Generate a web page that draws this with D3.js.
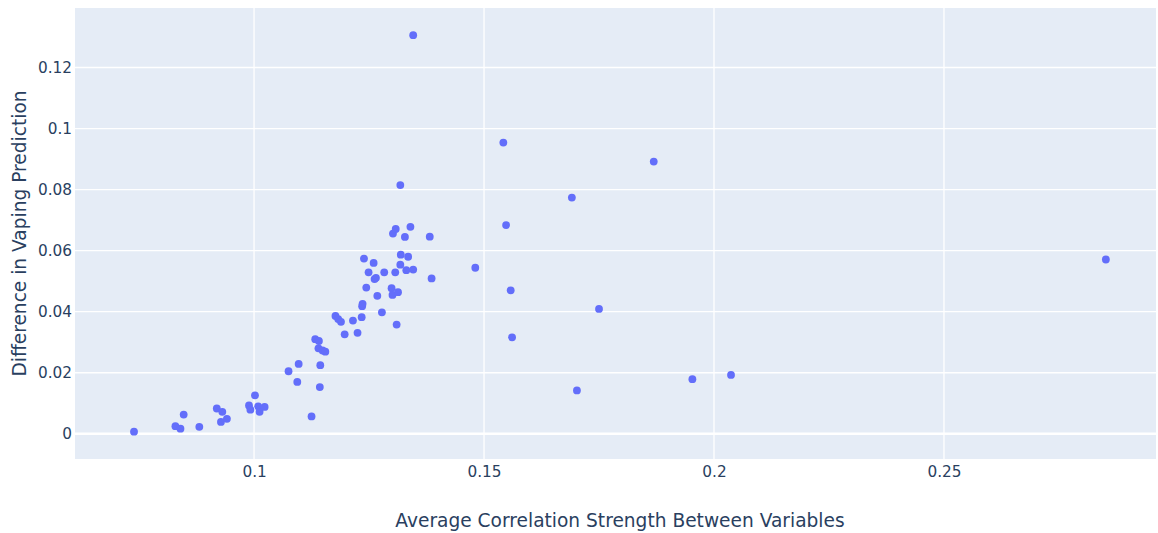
<!DOCTYPE html>
<html>
<head>
<meta charset="utf-8">
<script src="https://cdn.jsdelivr.net/npm/d3@7"></script>
<style>
  body { margin: 0; background: #fff; }
  svg { display: block; font-family: "DejaVu Sans", Verdana, sans-serif; }
</style>
</head>
<body>
<div id="chart"></div>
<script>
// average correlation strength (x) and difference in vaping prediction (y)
var corr = [
  0.0739, 0.0829, 0.0840, 0.0847, 0.0881, 0.0919, 0.0931, 0.0928, 0.0941, 0.1002,
  0.0989, 0.0992, 0.1009, 0.1012, 0.1023, 0.1075, 0.1097, 0.1094, 0.1125, 0.1133,
  0.1141, 0.1140, 0.1149, 0.1155, 0.1144, 0.1143, 0.1177, 0.1183, 0.1189, 0.1197,
  0.1215, 0.1225, 0.1234, 0.1235, 0.1236, 0.1239, 0.1244, 0.1249, 0.1260, 0.1262,
  0.1265, 0.1268, 0.1278, 0.1283, 0.1299, 0.1301, 0.1302, 0.1310, 0.1307, 0.1318,
  0.1308, 0.1340, 0.1328, 0.1382, 0.1319, 0.1335, 0.1318, 0.1331, 0.1346, 0.1386,
  0.1313, 0.1346, 0.1542, 0.1869, 0.1691, 0.1548, 0.1481, 0.1558, 0.1750, 0.1561,
  0.1953, 0.2037, 0.1702, 0.2852
];
var diff = [
  0.0007, 0.0025, 0.0017, 0.0063, 0.0023, 0.0083, 0.0072, 0.0039, 0.0049, 0.0126,
  0.0093, 0.0079, 0.0090, 0.0072, 0.0088, 0.0205, 0.0229, 0.0170, 0.0057, 0.0310,
  0.0304, 0.0280, 0.0273, 0.0269, 0.0225, 0.0153, 0.0386, 0.0376, 0.0367, 0.0326,
  0.0371, 0.0331, 0.0382, 0.0418, 0.0426, 0.0574, 0.0479, 0.0529, 0.0560, 0.0507,
  0.0511, 0.0452, 0.0398, 0.0529, 0.0477, 0.0455, 0.0656, 0.0358, 0.0529, 0.0815,
  0.0671, 0.0678, 0.0645, 0.0646, 0.0587, 0.0580, 0.0554, 0.0536, 0.0538, 0.0509,
  0.0464, 0.1306, 0.0954, 0.0892, 0.0774, 0.0684, 0.0544, 0.0470, 0.0409, 0.0316,
  0.0179, 0.0193, 0.0142, 0.0571
];
var xTicks = [0.1, 0.15, 0.2, 0.25];
var yTicks = [0, 0.02, 0.04, 0.06, 0.08, 0.1, 0.12];

var width = 1158, height = 533;
var margin = {top: 8, right: 2, bottom: 74, left: 75};
var w = width - margin.left - margin.right,
    h = height - margin.top - margin.bottom;

var x = d3.scaleLinear().domain([0.06107, 0.2961]).range([0, w]);
var y = d3.scaleLinear().domain([-0.00825, 0.1395]).range([h, 0]);

var svg = d3.select('#chart').append('svg')
    .attr('width', width)
    .attr('height', height);

var g = svg.append('g')
    .attr('transform', 'translate(' + margin.left + ',' + margin.top + ')');

g.append('rect')
    .attr('width', w)
    .attr('height', h)
    .attr('fill', '#e5ecf6');

// grid
g.selectAll('.xgrid').data(xTicks).enter().append('line')
    .attr('x1', d => x(d)).attr('x2', d => x(d))
    .attr('y1', 0).attr('y2', h)
    .attr('stroke', '#fff').attr('stroke-width', 1.3);

g.selectAll('.ygrid').data(yTicks).enter().append('line')
    .attr('x1', 0).attr('x2', w)
    .attr('y1', d => y(d)).attr('y2', d => y(d))
    .attr('stroke', '#fff')
    .attr('stroke-width', d => d === 0 ? 2.6 : 1.3);

// axes
var xAxis = g.append('g')
    .attr('transform', 'translate(0,' + h + ')')
    .call(d3.axisBottom(x).tickValues(xTicks).tickSize(0).tickPadding(7).tickFormat(d3.format('')));
var yAxis = g.append('g')
    .call(d3.axisLeft(y).tickValues(yTicks).tickSize(0).tickPadding(3).tickFormat(d3.format('')));

[xAxis, yAxis].forEach(function (a) {
    a.select('.domain').remove();
    a.selectAll('text')
        .attr('fill', '#2a3f5f')
        .style('font-size', '15.3px')
        .style('font-family', '"DejaVu Sans", Verdana, sans-serif');
});

// points
g.selectAll('circle').data(corr).enter().append('circle')
    .attr('cx', d => x(d))
    .attr('cy', (d, i) => y(diff[i]))
    .attr('r', 3.9)
    .attr('fill', '#636efa');

// titles
svg.append('text')
    .attr('x', 620)
    .attr('y', 527)
    .attr('text-anchor', 'middle')
    .attr('fill', '#2a3f5f')
    .style('font-size', '18.6px')
    .text('Average Correlation Strength Between Variables');

svg.append('text')
    .attr('transform', 'translate(26,' + (margin.top + h / 2) + ') rotate(-90)')
    .attr('text-anchor', 'middle')
    .attr('fill', '#2a3f5f')
    .style('font-size', '18.6px')
    .text('Difference in Vaping Prediction');
</script>
</body>
</html>
